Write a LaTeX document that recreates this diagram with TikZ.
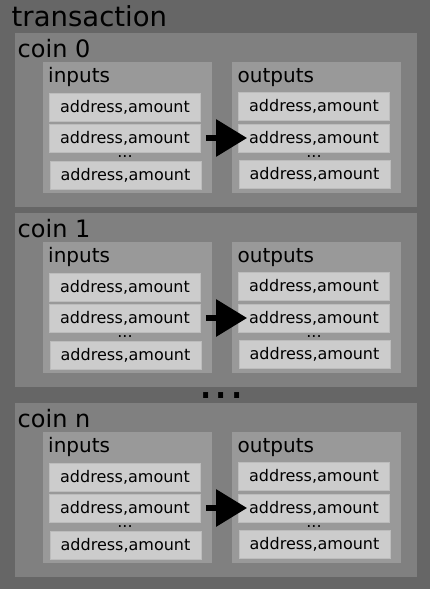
\documentclass[tikz,border=0pt]{standalone}
\usepackage{fontspec}
\setmainfont{DejaVu Sans}
\usetikzlibrary{arrows.meta}

\definecolor{bggray}{HTML}{666666}
\definecolor{coingray}{HTML}{808080}
\definecolor{boxgray}{HTML}{999999}
\definecolor{entrygray}{HTML}{CCCCCC}

\tikzset{
    entry/.style={fill=entrygray, draw=entrygray!92!black, line width=.8pt,
        minimum width=151pt, minimum height=28pt, inner sep=0pt,
        font=\fontsize{16}{16}\selectfont},
    boxlabel/.style={anchor=base west, inner sep=0pt},
    dots/.style={inner sep=0pt, anchor=base, font=\fontsize{16}{16}\selectfont},
}

\begin{document}
\begin{tikzpicture}[x=1pt,y=-1pt]

    \fill[bggray] (0,0) rectangle (430,589);
    \useasboundingbox (0,0) rectangle (430,589);

    \node[boxlabel, font=\fontsize{27.5}{27.5}\selectfont] (tx) at (11.5,26) {transaction};

    \foreach \cy/\n in {33/0, 213/1, 403/n} {
        \fill[coingray] (15,\cy) rectangle (416.5,\cy+174);
        \node[boxlabel, font=\fontsize{24}{24}\selectfont] (coin-\n) at (17.5,\cy+24) {coin \n};

        \fill[boxgray] (43,\cy+29) rectangle (211.5,\cy+160);
        \fill[boxgray] (232,\cy+29) rectangle (401,\cy+160);
        \node[boxlabel, font=\fontsize{20}{20}\selectfont] (ins-\n) at (48,\cy+49) {inputs};
        \node[boxlabel, font=\fontsize{20}{20}\selectfont] (outs-\n) at (237.5,\cy+49) {outputs};

        \node[entry] (in-\n-1) at (125,\cy+74) {address,amount};
        \node[entry] (in-\n-2) at (125,\cy+105) {address,amount};
        \node[entry] (in-\n-3) at (125.5,\cy+142) {address,amount};
        \node[entry] (out-\n-1) at (314,\cy+73) {address,amount};
        \node[entry] (out-\n-2) at (314,\cy+105) {address,amount};
        \node[entry] (out-\n-3) at (314.5,\cy+141) {address,amount};

        \node[dots] at (125,\cy+124.5) {...};
        \node[dots] at (314,\cy+124) {...};

        \draw[line width=6pt, -{Triangle[length=31pt, width=36pt]}]
            ([xshift=5pt]in-\n-2.east) -- ([xshift=9pt]out-\n-2.west);
    }

    \node[inner sep=0pt, anchor=base, font=\fontsize{48}{48}\selectfont] (more) at (221.5,398) {...};

\end{tikzpicture}
\end{document}
